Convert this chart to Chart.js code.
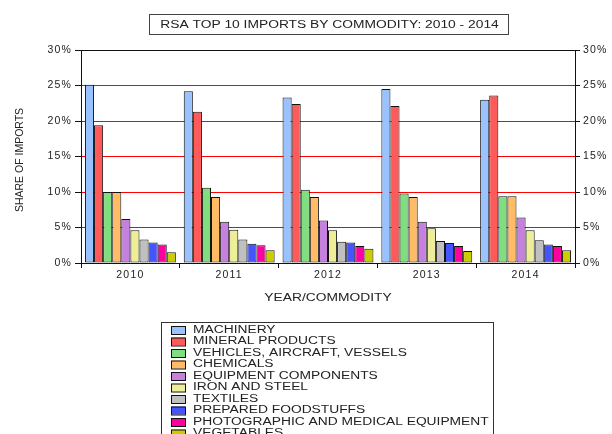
<!DOCTYPE html>
<html>
<head>
<meta charset="utf-8">
<title>RSA Top 10 Imports by Commodity</title>
<script src="https://cdn.jsdelivr.net/npm/chart.js@4.4.1/dist/chart.umd.min.js"></script>
<style>
  html, body { margin: 0; padding: 0; background: #ffffff; overflow: hidden; }
  #chart { display: block; }
</style>
</head>
<body>
<canvas id="chart" width="612" height="434"></canvas>
<script>
// Years on the category axis
const years = ['2010', '2011', '2012', '2013', '2014'];

// Share of total imports (%) per commodity group
const machinery    = [25.1, 24.2, 23.3, 24.5, 23.0];
const mineral      = [19.4, 21.3, 22.4, 22.1, 23.6];
const vehicles     = [10.0, 10.6, 10.3,  9.8,  9.4];
const chemicals    = [10.0,  9.3,  9.3,  9.3,  9.4];
const equipment    = [ 6.2,  5.8,  6.0,  5.8,  6.4];
const ironSteel    = [ 4.6,  4.7,  4.6,  4.9,  4.6];
const textiles     = [ 3.3,  3.3,  3.0,  3.1,  3.2];
const foodstuffs   = [ 2.9,  2.7,  2.9,  2.8,  2.6];
const photographic = [ 2.6,  2.5,  2.4,  2.4,  2.4];
const vegetables   = [ 1.5,  1.8,  2.0,  1.7,  1.8];

const seriesNames = [
  'MACHINERY', 'MINERAL PRODUCTS', 'VEHICLES, AIRCRAFT, VESSELS', 'CHEMICALS',
  'EQUIPMENT COMPONENTS', 'IRON AND STEEL', 'TEXTILES', 'PREPARED FOODSTUFFS',
  'PHOTOGRAPHIC AND MEDICAL EQUIPMENT', 'VEGETABLES'
];
const seriesValues = [machinery, mineral, vehicles, chemicals, equipment,
  ironSteel, textiles, foodstuffs, photographic, vegetables];
const seriesColors = ['#99C2FF', '#FF5A5A', '#80DD80', '#FFBB66', '#C680DD',
  '#EEEE99', '#C0C0C0', '#4455FF', '#FF00A0', '#CCCC00'];

// Tick values for the share axis
const yTicks = [0, 5, 10, 15, 20, 25, 30];

const FONT = "'Liberation Sans', Arial, sans-serif";
const STRETCH = 1.38;

// Horizontally widened text, as used in the title, axis titles and legend
function wideText(ctx, text, x, y, align) {
  ctx.save();
  ctx.font = '10px ' + FONT;
  ctx.fillStyle = '#222';
  ctx.textBaseline = 'middle';
  const w = ctx.measureText(text).width * STRETCH;
  let left = x;
  if (align === 'center') left = x - w / 2;
  ctx.translate(left, y);
  ctx.scale(STRETCH, 1);
  ctx.textAlign = 'left';
  ctx.fillText(text, 0, 0);
  ctx.restore();
}

const spacingPlugin = {
  id: 'tickSpacing',
  beforeDraw(chart) { chart.ctx.letterSpacing = '1.2px'; },
  afterDraw(chart) { chart.ctx.letterSpacing = '0px'; }
};

const decorPlugin = {
  id: 'decor',
  afterDraw(chart) {
    const ctx = chart.ctx;
    ctx.save();
    ctx.letterSpacing = '0px';

    // Boxed title
    ctx.strokeStyle = '#444';
    ctx.lineWidth = 1;
    ctx.strokeRect(149.5, 14.5, 359, 20);
    wideText(ctx, 'RSA TOP 10 IMPORTS BY COMMODITY: 2010 - 2014', 329.5, 25, 'center');

    // Axis titles
    wideText(ctx, 'YEAR/COMMODITY', 328, 298, 'center');
    ctx.save();
    ctx.translate(20, 160);
    ctx.rotate(-Math.PI / 2);
    ctx.font = '10.5px ' + FONT;
    ctx.fillStyle = '#222';
    ctx.textAlign = 'center';
    ctx.textBaseline = 'middle';
    ctx.fillText('SHARE OF IMPORTS', 0, 0);
    ctx.restore();

    // Legend box
    ctx.strokeStyle = '#333';
    ctx.strokeRect(161.5, 322.5, 332, 140);
    chart.data.datasets.forEach((ds, i) => {
      const cy = 330 + i * 11.5;
      ctx.fillStyle = ds.backgroundColor;
      ctx.fillRect(171, cy - 4, 14, 8);
      ctx.strokeStyle = '#111';
      ctx.strokeRect(171.5, cy - 3.5, 14, 8);
      wideText(ctx, ds.label, 193, cy, 'left');
    });
    ctx.restore();
  }
};

const datasets = seriesNames.map((name, i) => ({
  label: name,
  data: seriesValues[i],
  backgroundColor: seriesColors[i],
  borderColor: '#111',
  borderWidth: 1,
  borderSkipped: false,
  categoryPercentage: 0.92,
  barPercentage: 1.0
}));

const pct = v => v + '%';

new Chart(document.getElementById('chart'), {
  type: 'bar',
  data: { labels: years, datasets },
  options: {
    responsive: false,
    devicePixelRatio: 1,
    animation: false,
    layout: { padding: { top: 50, left: 0, right: 0, bottom: 0 } },
    plugins: {
      legend: { display: false },
      title: { display: false },
      tooltip: { enabled: false }
    },
    scales: {
      x: {
        grid: {
          offset: true,
          drawOnChartArea: false,
          color: '#111',
          tickColor: '#111',
          tickLength: 5
        },
        border: { display: true, color: '#111', width: 1 },
        ticks: { color: '#222', font: { family: FONT, size: 10.5 }, padding: 1, maxRotation: 0 },
        afterFit(scale) { scale.height = 171; }
      },
      y: {
        position: 'left',
        min: 0,
        max: 30,
        afterBuildTicks(scale) { scale.ticks = yTicks.map(v => ({ value: v })); },
        grid: {
          color: c => (c.tick && (c.tick.value === 0 || c.tick.value === 30)) ? '#111' : '#FF0000',
          tickColor: '#111',
          tickLength: 6,
          lineWidth: 1
        },
        border: { display: true, color: '#111', width: 1 },
        ticks: { color: '#222', font: { family: FONT, size: 10.5 }, padding: 3, callback: pct },
        afterFit(scale) { scale.width = 81; }
      },
      y2: {
        position: 'right',
        min: 0,
        max: 30,
        afterBuildTicks(scale) { scale.ticks = yTicks.map(v => ({ value: v })); },
        grid: { drawOnChartArea: false, color: '#111', tickColor: '#111', tickLength: 5 },
        border: { display: true, color: '#111', width: 1 },
        ticks: { color: '#222', font: { family: FONT, size: 10.5 }, padding: 3, callback: pct },
        afterFit(scale) { scale.width = 37; }
      }
    }
  },
  plugins: [spacingPlugin, decorPlugin]
});
</script>
</body>
</html>
